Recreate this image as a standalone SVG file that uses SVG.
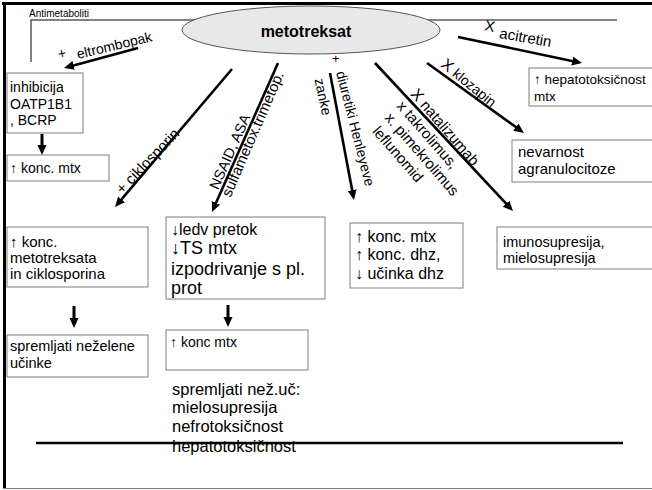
<svg xmlns="http://www.w3.org/2000/svg" width="652" height="490" viewBox="0 0 652 490">
<style>
.box{fill:#fff;stroke:#7f7f7f;stroke-width:1}
text{font-family:"Liberation Sans",Arial,sans-serif;fill:#000}
.arr{stroke:#000;stroke-width:2.6;fill:none;marker-end:url(#ah)}
.v{stroke-width:3}
</style>
<defs>
<marker id="ah" markerUnits="userSpaceOnUse" markerWidth="12" markerHeight="10" refX="2" refY="4.5" orient="auto"><path d="M0,0 L10,4.5 L0,9 z" fill="#000"/></marker>
</defs>
<rect width="652" height="490" fill="#fff"/>
<g id="frame">
<line x1="2" y1="3.5" x2="652" y2="3.5" stroke="#000" stroke-width="3"/>
<line x1="4.5" y1="2" x2="4.5" y2="489" stroke="#000" stroke-width="3"/>
<line x1="3" y1="488.5" x2="652" y2="488.5" stroke="#7f7f7f" stroke-width="1.2"/>
<polyline points="31,62 31,20 617,20" stroke="#595959" stroke-width="1.5" fill="none"/>
<text x="29" y="17" font-size="10">Antimetaboliti</text>
</g>
<g id="metotreksat">
<ellipse cx="311" cy="30" rx="129" ry="24" fill="#e8e8e8" stroke="#555" stroke-width="1"/>
<text x="306" y="37" font-size="16" font-weight="bold" text-anchor="middle">metotreksat</text>
</g>
<g id="connectors">
<line class="arr" x1="138" y1="48" x2="71.7" y2="65.9"/>
<line class="arr" x1="232" y1="69" x2="120.2" y2="200.9"/>
<line class="arr" x1="278" y1="63" x2="215.2" y2="204.7"/>
<line class="arr" x1="330" y1="73" x2="352.5" y2="192.1"/>
<line class="arr" x1="375" y1="63" x2="507.5" y2="205.2"/>
<line class="arr" x1="427" y1="63" x2="517.5" y2="128.3"/>
<line class="arr" x1="458" y1="37" x2="574.2" y2="61.4"/>
<line class="arr v" x1="42" y1="134" x2="42" y2="147"/>
<line class="arr v" x1="74" y1="306" x2="74" y2="320"/>
<line class="arr v" x1="228" y1="305" x2="228" y2="319"/>
<text transform="translate(78,59) rotate(-13.5)" font-size="14"><tspan x="-18.5" y="-4.5">+</tspan><tspan x="0" y="0">eltrombopak</tspan></text>
<text transform="translate(122.2,194.7) rotate(-46)" font-size="15">+ ciklosporin</text>
<text transform="translate(218,190.6) rotate(-66)" font-size="14.5">NSAID, ASA</text>
<text transform="translate(230.4,198) rotate(-66.5)" font-size="15">sulfametox.trimetop.</text>
<text x="332" y="63" font-size="13">+</text>
<text transform="translate(335.9,72.5) rotate(75.5)" font-size="14">diuretiki Henleyeve</text>
<text transform="translate(314.5,79.5) rotate(78)" font-size="14">zanke</text>
<text transform="translate(409.7,94.6) rotate(49)" font-size="15"><tspan x="0" y="0" font-size="16">X</tspan><tspan> natalizumab</tspan><tspan x="0" y="18">x takrolimus,</tspan><tspan x="1" y="35">x. pimekrolimus</tspan><tspan x="3" y="53">leflunomid</tspan></text>
<text transform="translate(440.1,66.1) rotate(39)" font-size="14"><tspan font-size="16">X</tspan> klozapin</text>
<text transform="translate(498.8,37.9) rotate(10)" font-size="15"><tspan x="-16" y="-5" font-size="15">X</tspan><tspan x="0" y="0">acitretin</tspan></text>
</g>
<g id="n-inhibicija">
<rect class="box" x="7" y="73" width="76" height="60"/>
<text x="10" y="92" font-size="14">inhibicija</text>
<text x="10" y="108.5" font-size="14">OATP1B1</text>
<text x="10" y="125" font-size="14">, BCRP</text>
</g>
<g id="n-konc1">
<rect class="box" x="7" y="155" width="102" height="26"/>
<text x="10" y="173" font-size="14">↑ konc. mtx</text>
</g>
<g id="n-konc-cik">
<rect class="box" x="7" y="227" width="141" height="60"/>
<text x="10" y="247" font-size="15">↑ konc.</text>
<text x="10" y="263" font-size="15">metotreksata</text>
<text x="10" y="279" font-size="15">in ciklosporina</text>
</g>
<g id="n-spremljati">
<rect class="box" x="7" y="335" width="141" height="42"/>
<text x="10" y="351" font-size="14.5">spremljati neželene</text>
<text x="10" y="368" font-size="14.5">učinke</text>
</g>
<g id="n-ledv">
<rect class="box" x="166" y="217" width="159" height="82"/>
<text x="171" y="235" font-size="16">↓ledv pretok</text>
<text x="171" y="254" font-size="18">↓TS mtx</text>
<text x="171" y="275" font-size="18">izpodrivanje s pl.</text>
<text x="171" y="294" font-size="18">prot</text>
</g>
<g id="n-konc2">
<rect class="box" x="166" y="330" width="142" height="40"/>
<text x="170" y="347" font-size="14">↑ konc mtx</text>
</g>
<g id="n-nez">
<text x="172" y="395" font-size="16.5">spremljati než.uč:</text>
<text x="172" y="413" font-size="16.5">mielosupresija</text>
<text x="172" y="432" font-size="16.5">nefrotoksičnost</text>
<text x="172" y="452" font-size="16.5">hepatotoksičnost</text>
</g>
<line x1="36" y1="443" x2="623" y2="443" stroke="#000" stroke-width="2.5"/>
<g id="n-dhz">
<rect class="box" x="350" y="223" width="113" height="65"/>
<text x="355" y="242" font-size="16">↑ konc. mtx</text>
<text x="355" y="260" font-size="16">↑ konc. dhz,</text>
<text x="355" y="279" font-size="16">↓ učinka dhz</text>
</g>
<g id="n-imuno">
<rect class="box" x="497" y="227" width="160" height="42"/>
<text x="503" y="247" font-size="14.5">imunosupresija,</text>
<text x="503" y="263" font-size="14.5">mielosupresija</text>
</g>
<g id="n-agranul">
<rect class="box" x="512" y="140" width="150" height="42"/>
<text x="518" y="157" font-size="15">nevarnost</text>
<text x="518" y="174" font-size="15">agranulocitoze</text>
</g>
<g id="n-hepato">
<rect class="box" x="529" y="68" width="130" height="38"/>
<text x="534" y="84" font-size="13.5">↑ hepatotoksičnost</text>
<text x="534" y="101" font-size="13.5">mtx</text>
</g>
</svg>
